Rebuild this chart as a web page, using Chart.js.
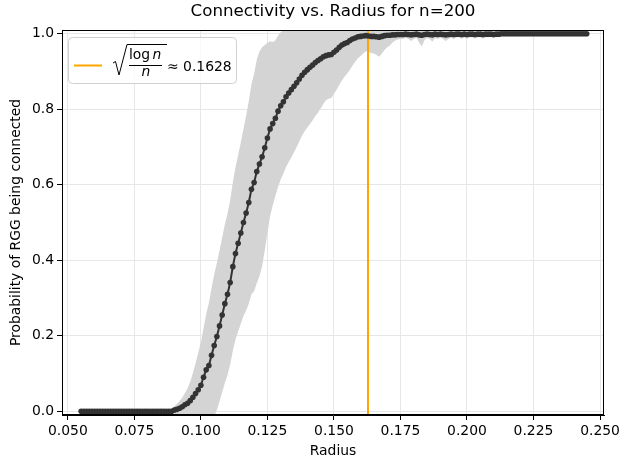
<!DOCTYPE html>
<html>
<head>
<meta charset="utf-8">
<script src="https://cdn.jsdelivr.net/npm/chart.js@4.4.0/dist/chart.umd.min.js"></script>
<style>
  body { margin: 0; background: #fff; }
  #wrap { width: 628px; height: 468px; }
</style>
</head>
<body>
<div id="wrap"><canvas id="myChart" width="628" height="468"></canvas></div>
<script>
const radius = [
  0.055, 0.056, 0.057, 0.058, 0.059, 0.060, 0.061, 0.062, 0.063, 0.064,
  0.065, 0.066, 0.067, 0.068, 0.069, 0.070, 0.071, 0.072, 0.073, 0.074,
  0.075, 0.076, 0.077, 0.078, 0.079, 0.080, 0.081, 0.082, 0.083, 0.084,
  0.085, 0.086, 0.087, 0.088, 0.089, 0.090, 0.091, 0.092, 0.093, 0.094,
  0.095, 0.096, 0.097, 0.098, 0.099, 0.100, 0.101, 0.102, 0.103, 0.104,
  0.105, 0.106, 0.107, 0.108, 0.109, 0.110, 0.111, 0.112, 0.113, 0.114,
  0.115, 0.116, 0.117, 0.118, 0.119, 0.120, 0.121, 0.122, 0.123, 0.124,
  0.125, 0.126, 0.127, 0.128, 0.129, 0.130, 0.131, 0.132, 0.133, 0.134,
  0.135, 0.136, 0.137, 0.138, 0.139, 0.140, 0.141, 0.142, 0.143, 0.144,
  0.145, 0.146, 0.147, 0.148, 0.149, 0.150, 0.151, 0.152, 0.153, 0.154,
  0.155, 0.156, 0.157, 0.158, 0.159, 0.160, 0.161, 0.162, 0.163, 0.164,
  0.165, 0.166, 0.167, 0.168, 0.169, 0.170, 0.171, 0.172, 0.173, 0.174,
  0.175, 0.176, 0.177, 0.178, 0.179, 0.180, 0.181, 0.182, 0.183, 0.184,
  0.185, 0.186, 0.187, 0.188, 0.189, 0.190, 0.191, 0.192, 0.193, 0.194,
  0.195, 0.196, 0.197, 0.198, 0.199, 0.200, 0.201, 0.202, 0.203, 0.204,
  0.205, 0.206, 0.207, 0.208, 0.209, 0.210, 0.211, 0.212, 0.213, 0.214,
  0.215, 0.216, 0.217, 0.218, 0.219, 0.220, 0.221, 0.222, 0.223, 0.224,
  0.225, 0.226, 0.227, 0.228, 0.229, 0.230, 0.231, 0.232, 0.233, 0.234,
  0.235, 0.236, 0.237, 0.238, 0.239, 0.240, 0.241, 0.242, 0.243, 0.244,
  0.245
];

// mean probability of being connected
const probMean = [
  0, 0, 0, 0, 0, 0, 0, 0, 0, 0,
  0, 0, 0, 0, 0, 0, 0, 0, 0, 0,
  0, 0, 0, 0, 0, 0, 0, 0, 0, 0,
  0, 0, 0, 0, 0, 0.003, 0.005, 0.008, 0.012, 0.017,
  0.021, 0.028, 0.037, 0.047, 0.057, 0.069, 0.090, 0.110, 0.121, 0.148,
  0.174, 0.198, 0.226, 0.255, 0.285, 0.310, 0.341, 0.383, 0.418, 0.445,
  0.472, 0.500, 0.525, 0.553, 0.588, 0.606, 0.635, 0.655, 0.674, 0.698,
  0.724, 0.748, 0.762, 0.776, 0.795, 0.809, 0.820, 0.833, 0.843, 0.852,
  0.861, 0.870, 0.880, 0.890, 0.898, 0.905, 0.911, 0.917, 0.924, 0.929,
  0.934, 0.939, 0.942, 0.944, 0.945, 0.951, 0.957, 0.964, 0.970, 0.974,
  0.977, 0.982, 0.986, 0.989, 0.992, 0.993, 0.994, 0.995, 0.994, 0.993,
  0.993, 0.992, 0.991, 0.993, 0.995, 0.996, 0.996, 0.997, 0.997, 0.998,
  0.998, 0.998, 0.999, 0.998, 0.997, 0.998, 0.999, 0.997, 0.996, 0.998,
  0.999, 0.998, 0.997, 0.999, 0.998, 0.999, 0.998, 0.997, 0.998, 0.999,
  0.998, 0.999, 0.999, 0.998, 0.999, 0.998, 0.999, 0.999, 0.998, 0.999,
  0.999, 0.998, 0.999, 0.999, 0.999, 0.998, 0.999, 0.999, 1, 1,
  1, 1, 1, 1, 1, 1, 1, 1, 1, 1,
  1, 1, 1, 1, 1, 1, 1, 1, 1, 1,
  1, 1, 1, 1, 1, 1, 1, 1, 1, 1,
  1
];

// standard deviation around the mean (grey band)
const probStd = [
  0, 0, 0, 0, 0, 0, 0, 0, 0, 0,
  0, 0, 0, 0, 0, 0, 0, 0, 0, 0,
  0, 0, 0, 0, 0, 0, 0, 0, 0, 0,
  0, 0, 0, 0, 0.004, 0.010, 0.014, 0.019, 0.024, 0.031,
  0.040, 0.050, 0.064, 0.080, 0.098, 0.114, 0.130, 0.148, 0.166, 0.178,
  0.188, 0.195, 0.200, 0.205, 0.210, 0.214, 0.218, 0.223, 0.228, 0.234,
  0.240, 0.248, 0.258, 0.268, 0.278, 0.288, 0.296, 0.298, 0.290, 0.272,
  0.252, 0.232, 0.216, 0.206, 0.200, 0.195, 0.190, 0.186, 0.183, 0.180,
  0.175, 0.170, 0.165, 0.160, 0.156, 0.153, 0.150, 0.146, 0.142, 0.138,
  0.132, 0.125, 0.118, 0.116, 0.115, 0.110, 0.105, 0.100, 0.094, 0.088,
  0.082, 0.077, 0.070, 0.063, 0.057, 0.052, 0.046, 0.041, 0.042, 0.044,
  0.045, 0.048, 0.052, 0.045, 0.038, 0.032, 0.027, 0.020, 0.015, 0.013,
  0.012, 0.011, 0.010, 0.012, 0.016, 0.012, 0.010, 0.020, 0.030, 0.015,
  0.010, 0.012, 0.018, 0.010, 0.012, 0.009, 0.012, 0.016, 0.012, 0.009,
  0.012, 0.009, 0.008, 0.012, 0.008, 0.012, 0.008, 0.008, 0.011, 0.008,
  0.008, 0.011, 0.008, 0.008, 0.007, 0.010, 0.007, 0.007, 0, 0,
  0, 0, 0, 0, 0, 0, 0, 0, 0, 0,
  0, 0, 0, 0, 0, 0, 0, 0, 0, 0,
  0, 0, 0, 0, 0, 0, 0, 0, 0, 0,
  0
];

const threshold = 0.1628; // sqrt(log n / n), n = 200
const xTicks = [0.050, 0.075, 0.100, 0.125, 0.150, 0.175, 0.200, 0.225, 0.250];
const yTicks = [0.0, 0.2, 0.4, 0.6, 0.8, 1.0];

const FONT = '"DejaVu Sans", sans-serif';

const meanPts = radius.map((r, i) => ({ x: r, y: probMean[i] }));
const upperPts = radius.map((r, i) => ({ x: r, y: probMean[i] + probStd[i] }));
const lowerPts = radius.map((r, i) => ({ x: r, y: probMean[i] - probStd[i] }));

const extras = {
  id: 'extras',
  afterDatasetsDraw(chart) {
    const { ctx, chartArea: a } = chart;
    ctx.save();
    ctx.strokeStyle = '#000';
    ctx.lineWidth = 1;
    ctx.strokeRect(a.left + 0.5, a.top + 0.5, a.right - a.left - 1, a.bottom - a.top - 1);
    ctx.restore();
  },
  afterDraw(chart) {
    const { ctx, chartArea: a } = chart;
    ctx.save();
    // title
    ctx.fillStyle = '#000';
    ctx.font = '16.7px ' + FONT;
    ctx.textAlign = 'center';
    ctx.textBaseline = 'middle';
    ctx.fillText('Connectivity vs. Radius for n=200', (a.left + a.right) / 2, 12);

    // legend box
    const bx = a.left + 6, by = a.top + 7, bw = 168, bh = 46;
    ctx.beginPath();
    ctx.roundRect(bx + 0.5, by + 0.5, bw, bh, 4);
    ctx.fillStyle = 'rgba(255,255,255,0.8)';
    ctx.fill();
    ctx.strokeStyle = '#d0d0d0';
    ctx.lineWidth = 1;
    ctx.stroke();

    // line sample
    ctx.strokeStyle = '#ffa500';
    ctx.lineWidth = 2;
    ctx.beginPath();
    ctx.moveTo(bx + 6, by + 28.5);
    ctx.lineTo(bx + 34, by + 28.5);
    ctx.stroke();

    // radical sign
    const rx = bx + 45;
    ctx.strokeStyle = '#000';
    ctx.lineWidth = 1;
    ctx.beginPath();
    ctx.moveTo(rx, by + 26);
    ctx.lineTo(rx + 2.5, by + 24.5);
    ctx.lineTo(rx + 6, by + 38);
    ctx.lineTo(rx + 14, by + 7.5);
    ctx.lineTo(rx + 54, by + 7.5);
    ctx.stroke();

    // fraction
    ctx.fillStyle = '#000';
    ctx.textAlign = 'left';
    ctx.textBaseline = 'alphabetic';
    ctx.font = '13.9px ' + FONT;
    const fx = bx + 61;
    ctx.fillText('log', fx, by + 21.5);
    ctx.font = 'italic 13.9px ' + FONT;
    ctx.fillText('n', fx + 23.5, by + 21.5);
    ctx.beginPath();
    ctx.moveTo(fx, by + 28.5);
    ctx.lineTo(fx + 33, by + 28.5);
    ctx.stroke();
    ctx.fillText('n', fx + 12.5, by + 38.5);

    ctx.font = '13.9px ' + FONT;
    ctx.fillText('\u2248 0.1628', bx + 99, by + 33.5);
    ctx.restore();
  }
};

new Chart(document.getElementById('myChart'), {
  type: 'line',
  data: {
    datasets: [
      {
        label: 'mean',
        data: meanPts,
        borderColor: 'rgba(51,51,51,1)',
        backgroundColor: 'rgba(51,51,51,1)',
        borderWidth: 2,
        pointRadius: 2.8,
        pointBorderWidth: 0,
        pointHoverRadius: 2.8,
        fill: false,
        tension: 0
      },
      {
        label: 'threshold',
        data: [{ x: threshold, y: -0.02 }, { x: threshold, y: 1.02 }],
        borderColor: '#ffa500',
        borderWidth: 2,
        pointRadius: 0,
        fill: false
      },
      {
        label: 'upper',
        data: upperPts,
        borderWidth: 0,
        borderColor: 'rgba(0,0,0,0)',
        backgroundColor: 'rgb(212,212,212)',
        pointRadius: 0,
        fill: '+1'
      },
      {
        label: 'lower',
        data: lowerPts,
        borderWidth: 0,
        borderColor: 'rgba(0,0,0,0)',
        pointRadius: 0,
        fill: false
      }
    ]
  },
  options: {
    responsive: false,
    animation: false,
    events: [],
    layout: { padding: { left: 0, right: 24, top: 30, bottom: 0 } },
    plugins: {
      legend: { display: false },
      tooltip: { enabled: false },
      title: { display: false }
    },
    scales: {
      x: {
        type: 'linear',
        min: 0.0478,
        max: 0.2515,
        afterFit(scale) { scale.height = 53; },
        afterBuildTicks(scale) { scale.ticks = xTicks.map(v => ({ value: v })); },
        ticks: {
          callback: v => v.toFixed(3),
          font: { family: FONT, size: 13.9 },
          color: '#000',
          padding: 3,
          maxRotation: 0,
          autoSkip: false
        },
        grid: { color: '#e7e7e7', lineWidth: 1, tickColor: '#000', tickLength: 5, tickWidth: 1 },
        border: { display: true, color: '#000', width: 1 },
        title: {
          display: true,
          text: 'Radius',
          color: '#000',
          font: { family: FONT, size: 13.9 },
          padding: { top: 0, bottom: 8.6 }
        }
      },
      y: {
        type: 'linear',
        min: -0.01,
        max: 1.01,
        afterFit(scale) { scale.width = 62; },
        afterBuildTicks(scale) { scale.ticks = yTicks.map(v => ({ value: v })); },
        ticks: {
          callback: v => v.toFixed(1),
          font: { family: FONT, size: 13.9 },
          color: '#000',
          padding: 3
        },
        grid: { color: '#e7e7e7', lineWidth: 1, tickColor: '#000', tickLength: 5, tickWidth: 1 },
        border: { display: true, color: '#000', width: 1 },
        title: {
          display: true,
          text: 'Probability of RGG being connected',
          color: '#000',
          font: { family: FONT, size: 13.9 },
          padding: { top: 7.7, bottom: 0 }
        }
      }
    }
  },
  plugins: [extras]
});
</script>
</body>
</html>
